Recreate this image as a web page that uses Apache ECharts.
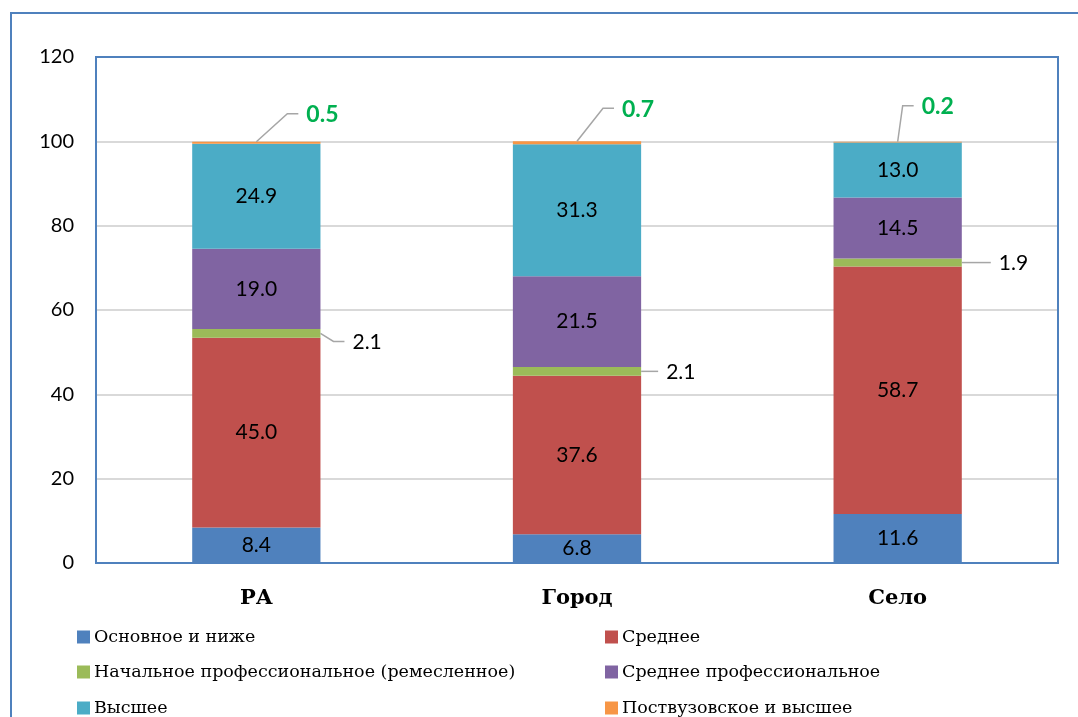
<!DOCTYPE html>
<html>
<head>
<meta charset="utf-8">
<script src="https://cdn.jsdelivr.net/npm/echarts@6/dist/echarts.min.js"></script>
<style>
  html, body { margin: 0; padding: 0; background: #fff; }
  #main { width: 1078px; height: 717px; }
</style>
</head>
<body>
<div id="main"></div>
<script>
// categories and series
var categories = ['РА', 'Город', 'Село'];
var seriesNames = [
    'Основное и ниже',
    'Среднее',
    'Начальное профессиональное (ремесленное)',
    'Среднее профессиональное',
    'Высшее',
    'Поствузовское и высшее'
];
var basicAndLower = [8.4, 6.8, 11.6];
var secondary = [45.0, 37.6, 58.7];
var primaryVocational = [2.1, 2.1, 1.9];
var secondaryVocational = [19.0, 21.5, 14.5];
var higher = [24.9, 31.3, 13.0];
var postgraduate = [0.5, 0.7, 0.2];
var yTicks = [0, 20, 40, 60, 80, 100, 120];

var colors = ['#4F81BD', '#C0504D', '#9BBB59', '#8064A2', '#4BACC6', '#F79646'];

var numFont = 'Lato';
var serifFont = 'DejaVu Serif';
var barPct = 0.4;

// leader line shapes (pixel offsets) for the small segments
var greenElbow = [[13, 8], [0, 0], [0, 0]];
var greenRun = [11, 17, 29];
var topElbow = [[31, -28], [26, -33], [5, -36]];
var topRun = [11, 11, 11];

function fmt(v) { return v.toFixed(1); }

function main() {
    var myChart = echarts.init(document.getElementById('main'));

    var insideLabel = {
        show: true,
        position: 'inside',
        color: '#000',
        fontFamily: numFont,
        fontSize: 21,
        formatter: function (p) { return fmt(p.value); }
    };

    function bar(name, data, idx, showLabel) {
        return {
            name: name,
            type: 'bar',
            stack: 'total',
            barWidth: (barPct * 100) + '%',
            data: data,
            itemStyle: { color: colors[idx] },
            label: showLabel ? insideLabel : { show: false }
        };
    }

    // annotation points taken from the stacked values
    var greenPts = categories.map(function (c, i) {
        return [i, basicAndLower[i] + secondary[i] + primaryVocational[i] / 2, primaryVocational[i]];
    });
    var topPts = categories.map(function (c, i) {
        return [i, basicAndLower[i] + secondary[i] + primaryVocational[i] +
            secondaryVocational[i] + higher[i] + postgraduate[i], postgraduate[i]];
    });

    function leader(elbows, runs, atEdge, textStyle) {
        return function (params, api) {
            var i = api.value(0);
            var p = api.coord([i, api.value(1)]);
            var half = api.size([1, 0])[0] * barPct / 2;
            var x0 = atEdge ? p[0] + half : p[0];
            var y0 = p[1];
            var x1 = x0 + elbows[i][0];
            var y1 = y0 + elbows[i][1];
            var x2 = x1 + runs[i];
            return {
                type: 'group',
                children: [{
                    type: 'polyline',
                    shape: { points: [[x0, y0], [x1, y1], [x2, y1]] },
                    style: { stroke: '#A6A6A6', lineWidth: 1.5, fill: null }
                }, {
                    type: 'text',
                    x: x2 + 8,
                    y: y1 + 1,
                    style: Object.assign({
                        text: fmt(api.value(2)),
                        align: 'left',
                        verticalAlign: 'middle'
                    }, textStyle)
                }]
            };
        };
    }

    // six separate legends so the two columns line up
    var legendPos = [
        { left: 72, top: 623 }, { left: 600, top: 623 },
        { left: 72, top: 658 }, { left: 600, top: 658 },
        { left: 72, top: 694 }, { left: 600, top: 694 }
    ];
    var legends = seriesNames.map(function (n, i) {
        return {
            data: [n],
            left: legendPos[i].left,
            top: legendPos[i].top,
            itemWidth: 13,
            itemHeight: 13,
            itemGap: 0,
            icon: 'rect',
            textStyle: { fontFamily: serifFont, fontSize: 17.5, color: '#000', padding: [0, 0, 0, -1] },
            selectedMode: false
        };
    });

    var option = {
        animation: false,
        backgroundColor: '#fff',
        graphic: [{
            type: 'rect',
            shape: { x: 11, y: 13, width: 1200, height: 900 },
            style: { fill: null, stroke: '#4F81BD', lineWidth: 2 },
            silent: true
        }],
        legend: legends,
        grid: {
            left: 96, top: 57, right: 20, bottom: 154,
            show: true,
            borderColor: '#4F81BD',
            borderWidth: 2,
            z: 3
        },
        xAxis: {
            type: 'category',
            data: categories,
            axisTick: { show: false },
            axisLine: { lineStyle: { color: '#9DB7DA', width: 2 } },
            axisLabel: {
                color: '#000',
                fontFamily: serifFont,
                fontWeight: 'bold',
                fontSize: 21,
                margin: 25
            }
        },
        yAxis: {
            type: 'value',
            min: yTicks[0],
            max: yTicks[yTicks.length - 1],
            interval: 20,
            axisLine: { show: false },
            axisTick: { show: false },
            splitLine: { showMaxLine: false, lineStyle: { color: '#D9D9D9', width: 2 } },
            axisLabel: {
                color: '#000',
                fontFamily: numFont,
                fontSize: 20,
                margin: 22
            }
        },
        series: [
            bar(seriesNames[0], basicAndLower, 0, true),
            bar(seriesNames[1], secondary, 1, true),
            bar(seriesNames[2], primaryVocational, 2, false),
            bar(seriesNames[3], secondaryVocational, 3, true),
            bar(seriesNames[4], higher, 4, true),
            bar(seriesNames[5], postgraduate, 5, false),
            {
                type: 'custom',
                data: greenPts,
                z: 5,
                silent: true,
                renderItem: leader(greenElbow, greenRun, true,
                    { fill: '#000', fontFamily: numFont, fontSize: 21 })
            },
            {
                type: 'custom',
                data: topPts,
                z: 5,
                silent: true,
                renderItem: leader(topElbow, topRun, false,
                    { fill: '#00B050', fontFamily: numFont, fontWeight: 'bold', fontSize: 23 })
            }
        ]
    };

    myChart.setOption(option);
}

main();
</script>
</body>
</html>
